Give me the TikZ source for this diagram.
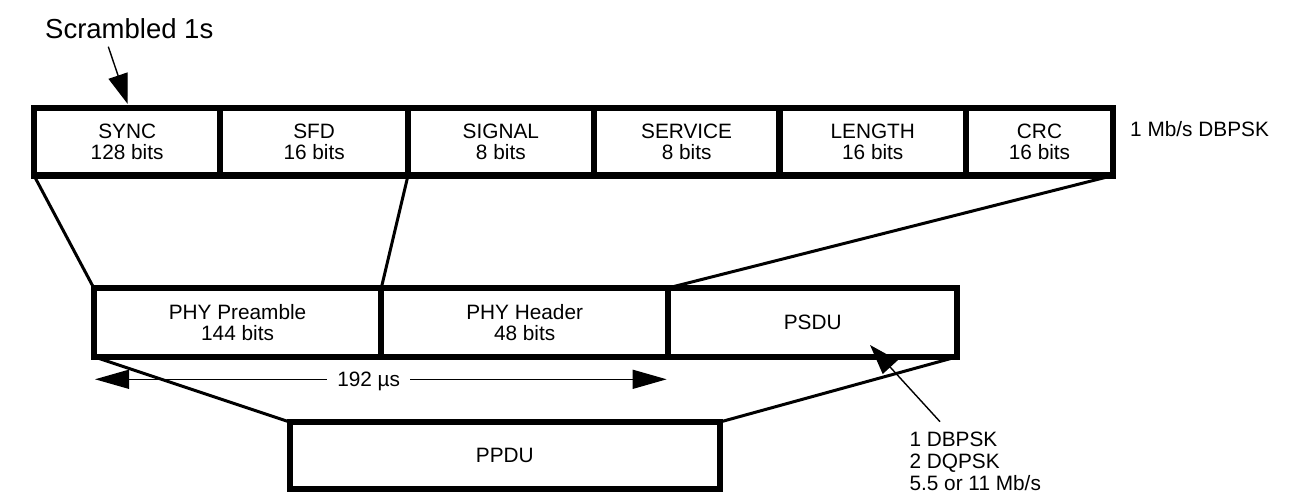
\documentclass[tikz,border=0pt]{standalone}
\usepackage{fontspec}
\setmainfont{Liberation Sans}
\usetikzlibrary{arrows.meta}
\begin{document}
\begin{tikzpicture}[x=1pt,y=-1pt,
  cell/.style={draw, line width=6.3pt, inner sep=0pt, outer sep=0pt, align=center,
    font=\fontsize{20.8pt}{20.8pt}\selectfont},
  link/.style={line width=3pt},
  pointer/.style={line width=1.4pt, -{Triangle[length=30pt,width=20pt]}},
  dimline/.style={line width=1.4pt, {Triangle[length=34pt,width=19pt]}-{Triangle[length=34pt,width=19pt]}},
  lbl/.style={inner sep=0pt, font=\fontsize{20.8pt}{21.7pt}\selectfont}
]
\useasboundingbox (0,0) rectangle (1303,502);

% top row
\node[cell, minimum width=186.3pt, minimum height=67.5pt] (sync) at (127.15,141.75) {SYNC\\128 bits};
\node[cell, minimum width=187.7pt, minimum height=67.5pt] (sfd) at (314.15,141.75) {SFD\\16 bits};
\node[cell, minimum width=185.7pt, minimum height=67.5pt] (signal) at (500.85,141.75) {SIGNAL\\8 bits};
\node[cell, minimum width=185.8pt, minimum height=67.5pt] (service) at (686.6,141.75) {SERVICE\\8 bits};
\node[cell, minimum width=186.5pt, minimum height=67.5pt] (length) at (872.75,141.75) {LENGTH\\16 bits};
\node[cell, minimum width=147pt, minimum height=67.5pt] (crc) at (1039.5,141.75) {CRC\\16 bits};

% middle row
\node[cell, minimum width=287.5pt, minimum height=68.7pt] (pre) at (237.55,322.35) {PHY Preamble\\144 bits};
\node[cell, minimum width=286.7pt, minimum height=68.7pt] (hdr) at (524.65,322.35) {PHY Header\\48 bits};
\node[cell, minimum width=289.3pt, minimum height=68.7pt] (psdu) at (812.65,322.35) {PSDU};

% bottom
\node[cell, minimum width=430.3pt, minimum height=67pt] (ppdu) at (504.85,455.5) {PPDU};

% connectors between rows
\draw[link] (sync.south west) -- (pre.north west);
\draw[link] (sfd.south east) -- (pre.north east);
\draw[link] (crc.south east) -- (psdu.north west);
\draw[link] (pre.south west) -- (ppdu.north west);
\draw[link] (psdu.south east) -- (ppdu.north east);

% labels
\node[lbl, anchor=base west, font=\fontsize{27.5pt}{27.5pt}\selectfont] (scr) at (45,38.3) {Scrambled 1s};
\coordinate (scrtail) at (108.3,46.7);
\coordinate (scrtip) at (127.7,104);
\draw[pointer] (scrtail) -- (scrtip);

\node[lbl, anchor=base west] (rate) at (1130,137) {1 Mb/s DBPSK};

% 192 us dimension
\coordinate (d1) at (95,379.3);
\coordinate (d2) at (666.7,379.3);
\draw[dimline] (d1) -- (d2);
\node[lbl, fill=white, inner xsep=10pt, inner ysep=2pt] (dur) at (368.7,381) {192 µs};

% modulation labels
\node[lbl, anchor=north west, align=left] (mod) at (909.3,432) {1 DBPSK\\2 DQPSK\\5.5 or 11 Mb/s};
\coordinate (modtail) at (940,421.7);
\coordinate (modtip) at (870,345);
\draw[pointer] (modtail) -- (modtip);
\end{tikzpicture}
\end{document}
